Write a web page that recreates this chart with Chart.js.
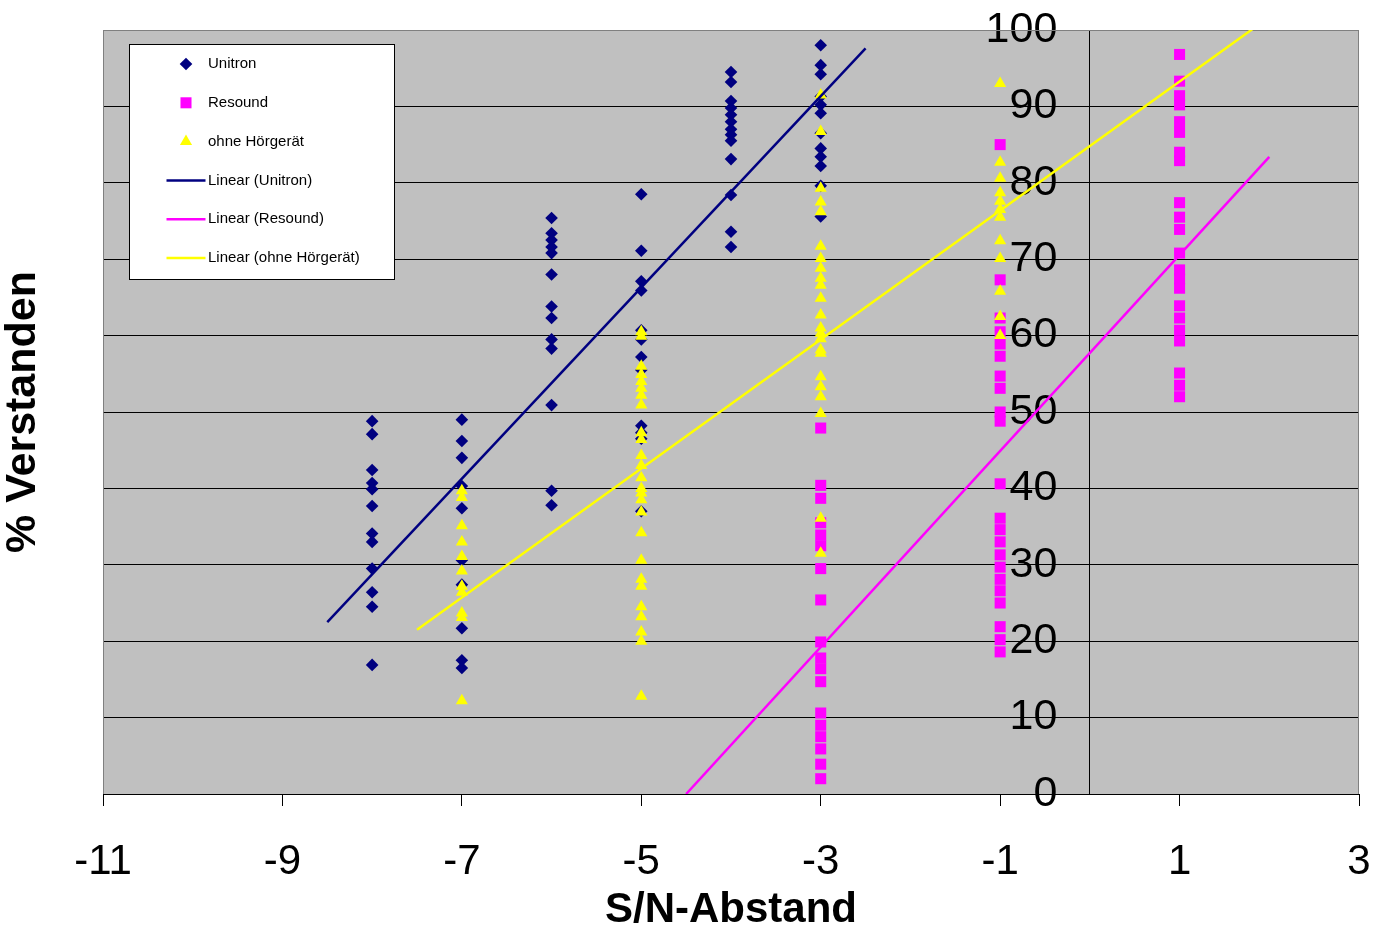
<!DOCTYPE html>
<html>
<head>
<meta charset="utf-8">
<script src="https://cdn.jsdelivr.net/npm/chart.js@4.4.1/dist/chart.umd.min.js"></script>
<style>
html, body { margin: 0; padding: 0; background: #fff; }
#wrap { width: 1390px; height: 942px; }
</style>
</head>
<body>
<div id="wrap"><canvas id="chart" width="1390" height="942"></canvas></div>
<script>
const FONT = 'Arial, "Liberation Sans", sans-serif'

// Messwerte (% verstanden) je S/N-Abstand
const unitronLevels = [-8, -7, -6, -5, -4, -3]
const unitronValues = [
  [48.8, 47.1, 42.4, 40.7, 39.9, 37.7, 34.1, 33.0, 29.5, 26.4, 24.5, 16.9],
  [49.0, 46.2, 44.0, 40.3, 37.4, 30.6, 27.4, 21.7, 17.5, 16.5],
  [75.4, 73.4, 72.5, 71.6, 70.8, 68.0, 63.8, 62.3, 59.5, 58.3, 50.9, 39.7, 37.8],
  [78.5, 71.1, 67.1, 65.9, 60.7, 59.5, 57.2, 55.5, 48.2, 47.3, 46.5, 37.0],
  [94.5, 93.2, 90.7, 89.8, 88.9, 88.0, 87.0, 86.3, 85.5, 83.1, 78.4, 73.6, 71.6],
  [98.0, 95.4, 94.2, 91.3, 90.2, 89.1, 86.5, 84.5, 83.4, 82.2, 79.6, 75.6]
]

const resoundLevels = [-3, -1, 1]
const resoundValues = [
  [47.9, 40.4, 38.7, 35.5, 33.9, 32.5, 29.5, 25.4, 19.9, 17.8, 16.4, 14.7, 10.6, 9.0, 7.5, 5.9, 3.9, 2.0],
  [85.0, 67.3, 62.3, 60.5, 58.9, 57.3, 54.7, 53.1, 50.0, 48.8, 40.6, 36.1, 34.6, 33.0, 31.3, 29.7, 28.1, 26.6, 25.0, 21.9, 20.2, 18.6],
  [96.8, 93.3, 91.4, 90.2, 88.0, 86.6, 84.0, 82.9, 77.4, 75.5, 73.9, 70.8, 68.6, 67.4, 66.2, 63.9, 62.3, 60.7, 59.3, 55.1, 53.5, 52.0]
]

const ohneLevels = [-7, -5, -3, -1]
const ohneValues = [
  [39.7, 38.8, 35.1, 33.0, 31.1, 29.2, 27.2, 26.4, 23.7, 23.1, 12.2],
  [60.5, 59.9, 56.0, 54.9, 54.0, 53.1, 52.2, 50.9, 47.3, 46.4, 44.3, 43.0, 41.4, 40.0, 39.4, 38.5, 36.9, 34.2, 30.6, 28.1, 27.2, 24.5, 23.2, 21.2, 20.0, 12.8],
  [91.5, 86.7, 79.3, 77.5, 76.2, 71.7, 70.1, 68.8, 67.5, 66.6, 64.9, 62.7, 61.0, 60.3, 59.6, 58.1, 57.7, 54.6, 53.3, 52.0, 49.8, 36.1, 31.5],
  [93.0, 82.7, 80.6, 78.7, 77.6, 76.5, 75.5, 72.4, 70.1, 65.8, 62.5, 60.0]
]

// Trendlinien, Endpunkte
const trendUnitronX = [-8.5, -2.5]
const trendUnitronY = [22.5, 97.6]
const trendResoundX = [-4.5, 2.0]
const trendResoundY = [0, 83.4]
const trendOhneX = [-7.5, 2.0]
const trendOhneY = [21.5, 101.7]

const toPoints = (levels, values) => levels.flatMap((lv, i) => values[i].map(v => ({x: lv, y: v})))
const toLine = (xs, ys) => xs.map((x, i) => ({x: x, y: ys[i]}))

const NAVY = '#000080', MAGENTA = '#FF00FF', YELLOW = '#FFFF00'

//Grauer Hintergrund und Rahmen der Zeichenfläche
const plotArea = {
  id: 'plotArea',
  beforeDraw(chart) {
    const {ctx, chartArea: a} = chart
    ctx.save()
    ctx.fillStyle = '#C0C0C0'
    ctx.fillRect(a.left, a.top, a.right - a.left, a.bottom - a.top)
    ctx.restore()
  },
  beforeDatasetsDraw(chart) {
    const {ctx, chartArea: a} = chart
    ctx.save()
    ctx.strokeStyle = '#808080'
    ctx.lineWidth = 1
    ctx.beginPath()
    ctx.moveTo(a.left + 0.5, a.bottom)
    ctx.lineTo(a.left + 0.5, a.top + 0.5)
    ctx.lineTo(a.right - 0.5, a.top + 0.5)
    ctx.lineTo(a.right - 0.5, a.bottom)
    ctx.stroke()
    ctx.restore()
  }
}

//Legende im Diagramm, wie in Excel
const legendOrder = [3, 2, 1, 0, 4, 5]
const boxLegend = {
  id: 'boxLegend',
  afterDraw(chart) {
    const {ctx, chartArea: a} = chart
    const x0 = a.left + 26.5, y0 = a.top + 14.5, w = 265, h = 235
    ctx.save()
    ctx.fillStyle = '#fff'
    ctx.strokeStyle = '#000'
    ctx.lineWidth = 1
    ctx.fillRect(x0, y0, w, h)
    ctx.strokeRect(x0, y0, w, h)
    ctx.font = '15px ' + FONT
    ctx.textBaseline = 'middle'
    legendOrder.forEach((dsIndex, row) => {
      const ds = chart.data.datasets[dsIndex]
      const cy = y0 + 19.5 + row * 38.8
      if (ds.showLine) {
        ctx.strokeStyle = ds.borderColor
        ctx.lineWidth = 2.5
        ctx.beginPath()
        ctx.moveTo(x0 + 37, cy)
        ctx.lineTo(x0 + 76, cy)
        ctx.stroke()
      } else {
        ctx.fillStyle = ds.pointBackgroundColor
        Chart.helpers.drawPoint(ctx, {pointStyle: ds.pointStyle, radius: ds.pointRadius, rotation: 0, borderWidth: 0}, x0 + 56.5, cy)
      }
      ctx.fillStyle = '#000'
      ctx.fillText(ds.label, x0 + 78.5, cy)
    })
    ctx.restore()
  }
}

new Chart(document.querySelector('#chart'), {
  type: 'scatter',
  data: {
    datasets: [
      {label: 'Linear (Unitron)', data: toLine(trendUnitronX, trendUnitronY), showLine: true,
        borderColor: NAVY, borderWidth: 2.5, pointRadius: 0, pointHoverRadius: 0, order: 0},
      {label: 'ohne Hörgerät', data: toPoints(ohneLevels, ohneValues), pointStyle: 'triangle',
        pointRadius: 7, pointHoverRadius: 7, pointBackgroundColor: YELLOW, pointBorderWidth: 0, order: 1},
      {label: 'Resound', data: toPoints(resoundLevels, resoundValues), pointStyle: 'rect',
        pointRadius: 7.8, pointHoverRadius: 7.8, pointBackgroundColor: MAGENTA, pointBorderWidth: 0, order: 2},
      {label: 'Unitron', data: toPoints(unitronLevels, unitronValues), pointStyle: 'rectRot',
        pointRadius: 6.3, pointHoverRadius: 6.3, pointBackgroundColor: NAVY, pointBorderWidth: 0, order: 3},
      {label: 'Linear (Resound)', data: toLine(trendResoundX, trendResoundY), showLine: true,
        borderColor: MAGENTA, borderWidth: 2.5, pointRadius: 0, pointHoverRadius: 0, order: 0},
      {label: 'Linear (ohne Hörgerät)', data: toLine(trendOhneX, trendOhneY), showLine: true,
        borderColor: YELLOW, borderWidth: 2.5, pointRadius: 0, pointHoverRadius: 0, order: 0}
    ]
  },
  options: {
    responsive: false,
    animation: false,
    devicePixelRatio: 1,
    layout: {padding: {top: 30, right: 31, left: 0, bottom: 0}},
    plugins: {legend: {display: false}, tooltip: {enabled: false}},
    scales: {
      x: {
        type: 'linear', position: 'bottom', min: -11, max: 3,
        ticks: {stepSize: 2, color: '#000', padding: 35, font: {family: FONT, size: 42, lineHeight: 1}},
        grid: {drawOnChartArea: false, drawTicks: true, tickLength: 12, color: '#000'},
        border: {display: true, color: '#000'},
        title: {display: true, text: 'S/N-Abstand', color: '#000', padding: {top: 3, bottom: 6},
          font: {family: FONT, size: 42, weight: 'bold', lineHeight: 1.2}},
        afterFit: s => { s.height = 148; s.paddingLeft = 0; s.paddingRight = 0 }
      },
      y: {
        type: 'linear', position: 'left', min: 0, max: 100,
        ticks: {display: false, stepSize: 10},
        grid: {color: c => c.tick && c.tick.value === 100 ? '#808080' : '#000', drawTicks: false},
        border: {display: false},
        title: {display: true, text: '% Verstanden', color: '#000', padding: {top: 2, bottom: 61},
          font: {family: FONT, size: 43, weight: 'bold', lineHeight: 1}},
        afterFit: s => { s.width = 103 }
      },
      yr: {
        type: 'linear', position: {x: 0}, min: 0, max: 100,
        ticks: {stepSize: 10, color: '#000', padding: 0, font: {family: FONT, size: 43, lineHeight: 1},
          callback: v => v + '  \u2009'},
        grid: {drawOnChartArea: false, drawTicks: true, tickLength: 13, color: '#000'},
        border: {display: true, color: '#000'},
        afterFit: s => { s.paddingTop = 0; s.paddingBottom = 0 }
      }
    }
  },
  plugins: [plotArea, boxLegend]
})
</script>
</body>
</html>
